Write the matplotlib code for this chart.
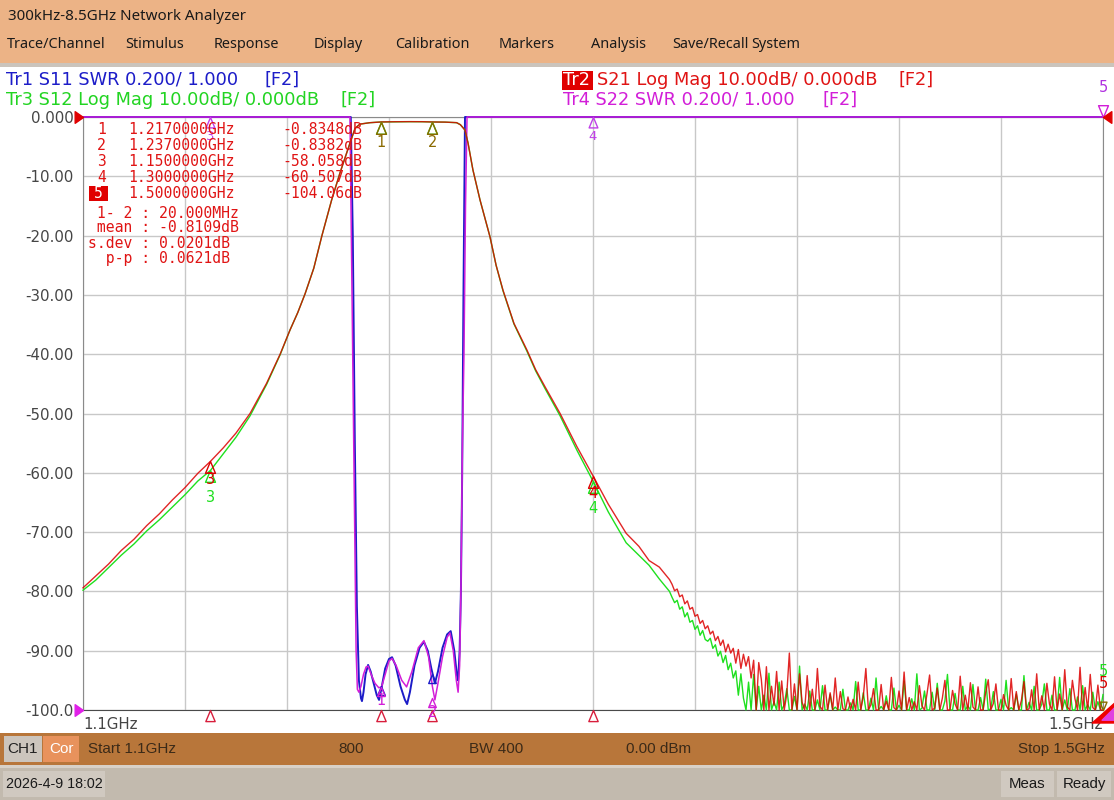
import numpy as np
import matplotlib
matplotlib.use("Agg")
import matplotlib.pyplot as plt
from matplotlib.path import Path
from matplotlib.patches import Rectangle

# ---------------- data ----------------
start_ghz, stop_ghz = 1.1, 1.5
swr_ref, swr_per_div = 1.0, 0.2
db_per_div = 10.0
y_ticks = [0, -10, -20, -30, -40, -50, -60, -70, -80, -90, -100]
y_tick_labels = ["0.000", "-10.00", "-20.00", "-30.00", "-40.00", "-50.00",
                 "-60.00", "-70.00", "-80.00", "-90.00", "-100.0"]
x_grid = [1.10, 1.14, 1.18, 1.22, 1.26, 1.30, 1.34, 1.38, 1.42, 1.46, 1.50]
x_tick_labels = ["1.1GHz", "", "", "", "", "", "", "", "", "", "1.5GHz"]

# smooth part of the sweep (GHz) -- S21 (Tr2) and S12 (Tr3), dB
freq_main = [1.100, 1.105, 1.110, 1.115, 1.120, 1.125, 1.130, 1.135, 1.140, 1.145,
             1.150, 1.155, 1.160, 1.1655, 1.172, 1.1773, 1.1812, 1.1842, 1.1871,
             1.1905, 1.1937, 1.1975, 1.2008, 1.2047, 1.2067, 1.2086, 1.2125,
             1.217, 1.222, 1.228, 1.233, 1.237, 1.242, 1.2465, 1.248, 1.2498, 1.251,
             1.2529, 1.2557, 1.2596, 1.2620, 1.2647, 1.2690, 1.2741, 1.2775, 1.2812,
             1.2871, 1.2937, 1.300, 1.306, 1.313, 1.318, 1.322, 1.326, 1.330]
s21_main = [-79.4, -77.4, -75.4, -73.1, -71.2, -68.9, -66.9, -64.6, -62.5, -60.1,
            -58.06, -55.8, -53.3, -50.0, -44.9, -40.0, -35.9, -33.0, -29.8,
            -25.5, -20.0, -14.0, -9.4, -4.4, -1.9, -1.2, -0.96,
            -0.835, -0.80, -0.78, -0.79, -0.838, -0.86, -0.95, -1.3, -2.2, -4.4,
            -8.9, -14.0, -20.2, -25.0, -29.2, -34.8, -39.3, -42.6, -45.5,
            -50.0, -55.6, -60.507, -65.3, -70.2, -72.4, -74.8, -75.9, -78.0]
s12_main = [-79.8, -78.1, -76.0, -73.9, -72.0, -69.8, -67.9, -65.8, -63.7, -61.4,
            -59.6, -56.8, -54.0, -50.4, -45.1, -40.1, -35.9, -33.0, -29.8,
            -25.5, -20.0, -14.0, -9.4, -4.4, -1.9, -1.2, -0.96,
            -0.84, -0.81, -0.79, -0.80, -0.84, -0.87, -0.96, -1.3, -2.2, -4.4,
            -8.9, -14.0, -20.2, -25.0, -29.3, -34.9, -39.5, -42.8, -45.8,
            -50.4, -56.2, -61.4, -66.6, -71.8, -73.9, -75.6, -77.9, -80.0]

# noisy tail, 1 MHz steps from 1.331 GHz to 1.500 GHz
noise_start, noise_step = 1.331, 0.001
s21_noise = [
    -78.8, -79.9, -79.6, -80.9, -80.6, -82.1, -81.6, -83.0, -82.7, -84.2,
    -83.9, -85.4, -84.9, -86.3, -85.8, -87.2, -86.7, -88.3, -87.6, -89.1,
    -88.2, -90.2, -88.9, -90.4, -89.6, -92.1, -89.8, -93.0, -90.6, -92.6,
    -91.0, -94.6, -91.6, -100.5, -92.0,
    -94.8, -101, -92.7, -103, -96.0, -99.2, -93.5, -102, -95.1, -100.6,
    -97.3, -90.4, -104, -95.6, -101, -93.9, -98.7, -102, -94.2, -100.8,
    -96.5, -103, -93.0, -99.4, -101, -95.8, -104, -97.1, -100.3, -94.6,
    -102, -96.9, -99.8, -103, -97.8, -100.5, -98.2, -104, -95.3, -101,
    -97.7, -93.0, -102, -99.1, -96.4, -103, -100.2, -95.7, -101, -98.5,
    -102, -94.5, -99.6, -103, -96.8, -100.9, -93.6, -104, -97.9, -100.4,
    -98.6, -102, -95.9, -99.3, -101, -97.2, -94.1, -103, -99.7, -96.3,
    -101, -98.0, -95.0, -102, -100.1, -96.7, -99.0, -103, -94.3, -100.7,
    -97.5, -101, -95.4, -99.5, -102, -96.1, -100.2, -104, -97.0, -94.9,
    -101, -98.9, -95.6, -103, -100.0, -97.4, -99.2, -102, -94.7, -100.6,
    -96.9, -103, -98.4, -95.2, -101, -99.8, -96.6, -102, -93.9, -100.3,
    -97.6, -101, -95.5, -99.0, -103, -94.4, -100.8, -97.3, -102, -93.2,
    -99.5, -101, -95.0, -98.1, -103, -92.8, -100.4, -96.2, -101, -94.0,
    -99.6, -102, -95.8, -100.9, -104.06]
s12_noise = [
    -81.0, -81.9, -81.5, -83.0, -82.6, -84.3, -83.6, -85.2, -84.9, -86.4,
    -85.8, -87.4, -86.6, -88.1, -88.4, -87.9, -89.6, -89.0, -90.9, -90.1,
    -92.0, -90.8, -93.2, -92.1, -94.6, -93.4, -97.5, -93.9, -98.0, -101,
    -95.3, -102, -94.0, -100.5, -96.0,
    -101, -97.5, -103, -93.8, -100.4, -98.6, -102, -95.3, -104, -99.1,
    -96.4, -101, -103, -97.7, -100.2, -92.6, -102, -99.0, -104, -96.8,
    -100.6, -103, -98.3, -101, -95.9, -102, -100.1, -97.4, -104, -99.5,
    -101, -102, -96.5, -100.3, -103, -98.8, -101, -95.2, -102, -100.4,
    -97.1, -103, -100.9, -98.0, -102, -94.6, -101, -99.4, -103, -97.6,
    -100.7, -102, -96.3, -101, -99.2, -104, -95.1, -100.5, -102, -98.1,
    -101, -93.9, -103, -99.7, -96.8, -102, -100.2, -97.0, -104, -95.5,
    -100.8, -102, -98.5, -94.0, -101, -103, -97.2, -100.0, -102, -96.0,
    -101, -99.3, -103, -95.7, -100.6, -102, -97.9, -101, -94.8, -103,
    -99.8, -96.9, -102, -100.3, -98.2, -104, -95.0, -101, -99.6, -102,
    -97.3, -100.7, -103, -94.2, -101, -98.7, -102, -96.0, -100.2, -103,
    -99.0, -95.6, -101, -102, -97.5, -100.5, -104, -94.5, -101, -98.3,
    -102, -96.4, -100.8, -103, -97.8, -101, -95.9, -102, -99.1, -100.6,
    -97.0, -102, -98.6, -101, -97.4]

# SWR traces (Tr1 S11, Tr4 S22)
s11_freq = [1.100, 1.2040, 1.2050, 1.2058, 1.2066, 1.2074, 1.2082, 1.2090, 1.2094,
            1.2100, 1.2108, 1.2118, 1.2128, 1.2140, 1.2152, 1.2161, 1.2172, 1.2185,
            1.2200, 1.2212, 1.2226, 1.2245, 1.2262, 1.2271, 1.2282, 1.2300, 1.2320,
            1.2337, 1.2352, 1.2366, 1.2380, 1.2392, 1.2410, 1.2428, 1.2442, 1.2456,
            1.2466, 1.2471, 1.2477, 1.2482, 1.2487, 1.2492, 1.2498, 1.2505, 1.500]
s11_swr = [25, 12, 3.5, 2.6, 1.9, 1.35, 1.10, 1.04, 1.03,
           1.06, 1.12, 1.152, 1.13, 1.09, 1.05, 1.034, 1.08, 1.14,
           1.172, 1.178, 1.15, 1.08, 1.035, 1.02, 1.06, 1.15, 1.21,
           1.23, 1.20, 1.14, 1.09, 1.13, 1.21, 1.255, 1.266, 1.20,
           1.12, 1.10, 1.20, 1.40, 1.80, 2.40, 3.20, 12, 25]
s22_freq = [1.100, 1.2044, 1.2047, 1.2055, 1.2063, 1.2071, 1.2076, 1.2082, 1.2090,
            1.2100, 1.2110, 1.2118, 1.2130, 1.2145, 1.2160, 1.2171, 1.2185, 1.2200,
            1.2212, 1.2228, 1.2250, 1.2269, 1.2290, 1.2315, 1.2337, 1.2355, 1.2370,
            1.2380, 1.2392, 1.2410, 1.2428, 1.2439, 1.2452, 1.2464, 1.2471, 1.2477,
            1.2482, 1.2488, 1.2494, 1.2500, 1.2506, 1.2512, 1.500]
s22_swr = [25, 12, 3.0, 2.4, 1.8, 1.2, 1.07, 1.06, 1.08,
           1.12, 1.145, 1.148, 1.12, 1.09, 1.075, 1.078, 1.12, 1.165,
           1.174, 1.15, 1.10, 1.078, 1.13, 1.21, 1.234, 1.18, 1.08,
           1.034, 1.09, 1.18, 1.245, 1.26, 1.20, 1.10, 1.06, 1.15,
           1.40, 1.90, 2.20, 2.70, 3.0, 12, 25]

# markers
marker_ids = [1, 2, 3, 4, 5]
marker_freq = [1.217, 1.237, 1.150, 1.300, 1.500]
marker_freq_text = ["1.2170000GHz", "1.2370000GHz", "1.1500000GHz", "1.3000000GHz", "1.5000000GHz"]
marker_s21 = [-0.8348, -0.8382, -58.058, -60.507, -104.06]
marker_s12 = [-0.84, -0.84, -59.6, -61.4, -103.2]
marker_s11 = [1.080, 1.120, 25, 25, 25]
marker_s22 = [1.078, 1.040, 25, 25, 25]
stats_lines = [" 1- 2 : 20.000MHz", " mean : -0.8109dB", "s.dev : 0.0201dB", "  p-p : 0.0621dB"]

menu_items = ["Trace/Channel", "Stimulus", "Response", "Display", "Calibration",
              "Markers", "Analysis", "Save/Recall", "System"]
menu_x = [7, 125, 214, 314, 395, 499, 591, 672, 751]

# ---------------- colours ----------------
C_S11 = "#1c1cc8"
C_S21 = "#dc0000"
C_S12 = "#1ee01e"
C_S22 = "#d21ed8"
C_OLIVE = "#8a6a00"
C_TXT_RED = "#e01414"

# ---------------- figure ----------------
W, H = 1114, 800
fig = plt.figure(figsize=(W / 100, H / 100), dpi=100)
fig.patch.set_facecolor("white")

bg = fig.add_axes([0, 0, 1, 1], zorder=0)
bg.set_xlim(0, W); bg.set_ylim(H, 0); bg.axis("off")

def rect(a, x0, y0, x1, y1, color):
    a.add_patch(Rectangle((x0, y0), x1 - x0, y1 - y0, facecolor=color, edgecolor="none"))

# header / footer bars
rect(bg, 0, 0, W, 63, "#ECB386")
rect(bg, 0, 63, W, 67, "#CBC4BC")
rect(bg, 0, 67, W, 733, "white")
rect(bg, 0, 733, W, 765, "#B8763A")
rect(bg, 0, 765, W, 768, "#D8D1C8")
rect(bg, 0, 768, W, H, "#C2BAAE")
rect(bg, 4, 736, 42, 762, "#CCC5BD")
rect(bg, 43, 736, 79, 762, "#E8925C")
rect(bg, 3, 771, 105, 797, "#D0C9C0")
rect(bg, 1001, 771, 1054, 797, "#D0C9C0")
rect(bg, 1057, 771, 1111, 797, "#D0C9C0")

HDR = "Noto Sans"
bg.text(8, 16, "300kHz-8.5GHz Network Analyzer", fontsize=10.9, family=HDR,
        color="#1a1a1a", va="center", ha="left")
for name, xx in zip(menu_items, menu_x):
    bg.text(xx, 45, name, fontsize=10.4, family=HDR, color="#1a1a1a", va="center", ha="left")

BAR = "Liberation Sans"
bar_col = "#3b2a18"
BS = 11.0
bg.text(23, 749, "CH1", fontsize=BS, family=BAR, color="#222222", va="center", ha="center")
bg.text(61, 749, "Cor", fontsize=BS, family=BAR, color="white", va="center", ha="center")
bg.text(88, 749, "Start 1.1GHz", fontsize=BS, family=BAR, color=bar_col, va="center", ha="left")
bg.text(351, 749, "800", fontsize=BS, family=BAR, color=bar_col, va="center", ha="center")
bg.text(469, 749, "BW 400", fontsize=BS, family=BAR, color=bar_col, va="center", ha="left")
bg.text(626, 749, "0.00 dBm", fontsize=BS, family=BAR, color=bar_col, va="center", ha="left")
bg.text(1105, 749, "Stop 1.5GHz", fontsize=BS, family=BAR, color=bar_col, va="center", ha="right")
bg.text(54, 784, "2026-4-9 18:02", fontsize=10.3, family=BAR, color="#1a1a1a", va="center", ha="center")
bg.text(1027, 784, "Meas", fontsize=10.8, family=BAR, color="#1a1a1a", va="center", ha="center")
bg.text(1084, 784, "Ready", fontsize=10.8, family=BAR, color="#1a1a1a", va="center", ha="center")

# trace header lines
TF = "DejaVu Sans"
TS = 12.8
bg.text(6, 80, "Tr1 S11 SWR 0.200/ 1.000", fontsize=TS, family=TF, color=C_S11, va="center")
bg.text(265, 80, "[F2]", fontsize=TS, family=TF, color=C_S11, va="center")
bg.text(6, 100, "Tr3 S12 Log Mag 10.00dB/ 0.000dB", fontsize=TS, family=TF, color="#22d422", va="center")
bg.text(341, 100, "[F2]", fontsize=TS, family=TF, color="#22d422", va="center")
rect(bg, 562, 71, 593, 90, "#e00000")
bg.text(563, 80, "Tr2", fontsize=TS, family=TF, color="white", va="center")
bg.text(597, 80, "S21 Log Mag 10.00dB/ 0.000dB", fontsize=TS, family=TF, color=C_TXT_RED, va="center")
bg.text(898, 80, "[F2]", fontsize=TS, family=TF, color=C_TXT_RED, va="center")
bg.text(563, 100, "Tr4 S22 SWR 0.200/ 1.000", fontsize=TS, family=TF, color=C_S22, va="center")
bg.text(822, 100, "[F2]", fontsize=TS, family=TF, color=C_S22, va="center")

# ---------------- main plot ----------------
L, R, T, B = 83, 1103, 117, 710
ax = fig.add_axes([L / W, (H - B) / H, (R - L) / W, (B - T) / H], zorder=1)
ax.set_facecolor("white")
ax.set_xlim(start_ghz, stop_ghz)
ax.set_ylim(-100, 0)
ax.set_xticks(x_grid)
ax.set_xticklabels(x_tick_labels)
ax.set_yticks(y_ticks)
ax.set_yticklabels(y_tick_labels)
ax.tick_params(axis="both", length=0, labelsize=10.8, labelcolor="#454545")
ax.tick_params(axis="y", pad=7)
ax.tick_params(axis="x", pad=5)
xl = ax.get_xticklabels()
xl[0].set_ha("left")
xl[-1].set_ha("right")
ax.grid(True, color="#c8c8c8", lw=1.0)
ax.set_axisbelow(True)
for s in ["left", "right", "top"]:
    ax.spines[s].set_color("#8a8a8a")
ax.spines["bottom"].set_color("#4a4a4a")

def swr_to_disp(v):
    return np.clip(-100 + (np.asarray(v, float) - swr_ref) / swr_per_div * db_per_div, -100, 0)

def db_to_disp(v):
    return np.clip(np.asarray(v, float), -100, 0)

freq_noise = noise_start + noise_step * np.arange(len(s21_noise))
f21 = np.concatenate([freq_main, freq_noise])
y21 = np.concatenate([s21_main, s21_noise])
y12 = np.concatenate([s12_main, s12_noise])

ax.plot(s11_freq, swr_to_disp(s11_swr), color=C_S11, lw=1.4, clip_on=False, zorder=3)
ax.plot(s22_freq, swr_to_disp(s22_swr), color=C_S22, lw=1.1, clip_on=False, zorder=4)
ax.plot(f21, db_to_disp(y12), color=C_S12, lw=1.0, clip_on=False, zorder=5)
ax.plot(f21, db_to_disp(y21), color=C_S21, lw=1.0, alpha=0.85, clip_on=False, zorder=6)

# marker glyphs
tri_up = Path([(0, 0), (-0.42, -1), (0.42, -1), (0, 0)],
              [Path.MOVETO, Path.LINETO, Path.LINETO, Path.CLOSEPOLY])
tri_dn = Path([(0, 0), (-0.42, 1), (0.42, 1), (0, 0)],
              [Path.MOVETO, Path.LINETO, Path.LINETO, Path.CLOSEPOLY])
arr_r = Path([(0, 0), (-1, 0.7), (-1, -0.7), (0, 0)],
             [Path.MOVETO, Path.LINETO, Path.LINETO, Path.CLOSEPOLY])
arr_l = Path([(0, 0), (1, 0.7), (1, -0.7), (0, 0)],
             [Path.MOVETO, Path.LINETO, Path.LINETO, Path.CLOSEPOLY])

def put_marker(f, disp, n, color, label_dy, ms=17, label=True, fs=10.5):
    ax.plot([f], [disp], marker=tri_up, ms=ms, mfc="none", mec=color, mew=1.0,
            clip_on=False, zorder=8, ls="none")
    if label:
        ax.annotate(str(n), (f, disp), xytext=(0, label_dy), textcoords="offset pixels",
                    ha="center", va="center", color=color, fontsize=fs, family=TF,
                    annotation_clip=False, zorder=9)

# SWR markers (Tr1 / Tr4)
for n, f, v11, v22 in zip(marker_ids, marker_freq, marker_s11, marker_s22):
    d11, d22 = float(swr_to_disp(v11)), float(swr_to_disp(v22))
    if n == 5:
        ax.plot([f], [d22], marker=tri_dn, ms=17, mfc="none", mec=C_S22, mew=1.0,
                clip_on=False, zorder=8, ls="none")
        ax.annotate("5", (f, d22), xytext=(0, 29), textcoords="offset pixels",
                    ha="center", va="center", color="#b030e0", fontsize=10.5,
                    family=TF, annotation_clip=False)
    elif d22 >= 0:
        put_marker(f, d22, n, "#c040e8", -20, ms=15, fs=9.5)
    else:
        put_marker(f, d11, n, C_S11, -14, ms=13, label=False)
        put_marker(f, d22, n, C_S22, -14, ms=13)

# S12 / S21 markers (Tr3 / Tr2)
for n, f, v21, v12 in zip(marker_ids, marker_freq, marker_s21, marker_s12):
    d21, d12 = float(db_to_disp(v21)), float(db_to_disp(v12))
    if n == 5:
        ax.annotate("5", (f, d12), xytext=(0, 38), textcoords="offset pixels",
                    ha="center", va="center", color=C_S12, fontsize=10.5, family=TF,
                    annotation_clip=False, zorder=9)
        ax.annotate("5", (f, d21), xytext=(0, 26), textcoords="offset pixels",
                    ha="center", va="center", color=C_S21, fontsize=10.5, family=TF,
                    annotation_clip=False, zorder=9)
        ax.plot([f], [d21], marker=tri_dn, ms=12, mfc="none", mec=C_OLIVE, mew=1.0,
                clip_on=False, zorder=8, ls="none")
    elif n <= 2:
        put_marker(f, d12, n, C_S12, -21, label=False)
        put_marker(f, d21, n, C_OLIVE, -21)
    else:
        put_marker(f, d12, n, C_S12, -27)
        put_marker(f, d21, n, C_S21, -18)

# active-marker indicators under the axis
ax.plot(marker_freq[:4], [-100] * 4, marker=tri_up, ms=16, mfc="none",
        mec="#d81e3c", mew=1.0, ls="none", clip_on=False, zorder=8)
# reference-level indicators
ax.plot([start_ghz], [0], marker=arr_r, ms=12, color="#e00000", ls="none", clip_on=False, zorder=9)
ax.plot([start_ghz], [-100], marker=arr_r, ms=12, color="#e020e8", ls="none", clip_on=False, zorder=9)
ax.plot([stop_ghz], [0], marker=arr_l, ms=12, color="#e00000", ls="none", clip_on=False, zorder=9)
corner = Path([(0.9, -1.0), (-0.9, -1.0), (0.9, 0.6), (0.9, -1.0)],
              [Path.MOVETO, Path.LINETO, Path.LINETO, Path.CLOSEPOLY])
ax.plot([stop_ghz], [-100], marker=corner, ms=18, color="#ee0000", ls="none", clip_on=False, zorder=9)
corner2 = Path([(0.9, -0.7), (-0.1, -0.7), (0.9, 0.3), (0.9, -0.7)],
               [Path.MOVETO, Path.LINETO, Path.LINETO, Path.CLOSEPOLY])
ax.plot([stop_ghz], [-100], marker=corner2, ms=18, color="#e040e0", ls="none", clip_on=False, zorder=10)

# ---------------- marker table (foreground) ----------------
fg = fig.add_axes([0, 0, 1, 1], zorder=5)
fg.set_xlim(0, W); fg.set_ylim(H, 0); fg.axis("off")
MONO = "DejaVu Sans Mono"
row_y = [129, 145, 161, 177, 193]
for n, ft, v, yy in zip(marker_ids, marker_freq_text, marker_s21, row_y):
    if n == 5:
        rect(fg, 89, 186, 108, 201, "#e00000")
        fg.text(98.5, yy, str(n), fontsize=10.6, family=MONO, color="white", ha="center", va="center")
    else:
        fg.text(101.5, yy, str(n), fontsize=10.6, family=MONO, color=C_TXT_RED, ha="center", va="center")
    fg.text(128, yy, ft, fontsize=10.6, family=MONO, color=C_TXT_RED, ha="left", va="center")
    fg.text(362, yy, f"{v:.5g}dB" if abs(v) < 100 else f"{v:.2f}dB",
            fontsize=10.6, family=MONO, color=C_TXT_RED, ha="right", va="center")
for s, yy in zip(stats_lines, [213, 228, 243, 258]):
    fg.text(88.5, yy, s, fontsize=10.6, family=MONO, color=C_TXT_RED, ha="left", va="center")

fig.savefig("out.png", dpi=100)
